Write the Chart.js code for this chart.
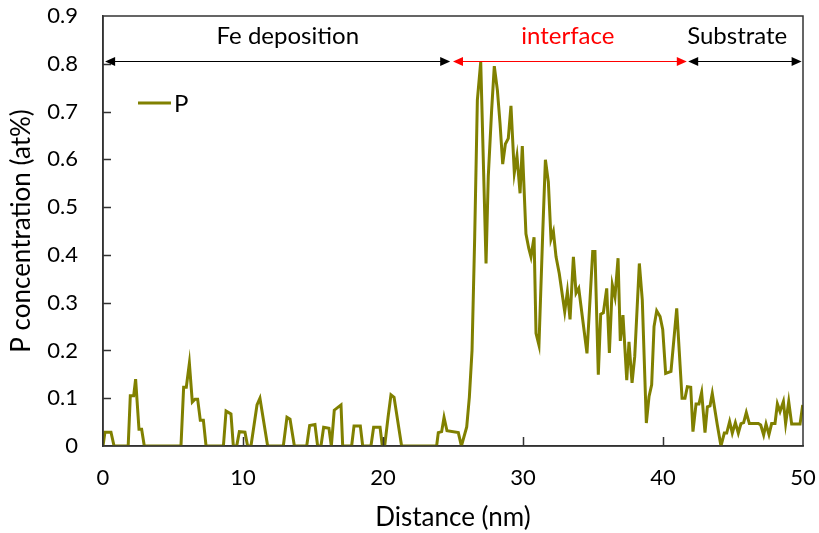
<!DOCTYPE html>
<html>
<head>
<meta charset="utf-8">
<script src="https://cdn.jsdelivr.net/npm/chart.js@4/dist/chart.umd.min.js"></script>
<style>
html,body{margin:0;padding:0;background:#fff;}
#wrap{width:819px;height:533px;position:relative;}
</style>
</head>
<body>
<div id="wrap"><canvas id="c" width="819" height="533"></canvas></div>
<script>
// ---- data ----
const distance = [0,0.14,0.57,0.79,1.8,1.95,2.19,2.33,2.57,2.76,2.95,5.57,5.76,5.95,6.17,6.38,6.57,6.76,6.95,7.17,7.36,8.6,8.79,9.14,9.31,9.55,9.74,10.14,10.33,10.57,11.0,11.21,11.76,12.88,13.14,13.36,13.67,14.55,14.76,15.14,15.33,15.57,15.76,16.14,16.31,16.52,17.0,17.12,17.76,17.93,18.38,18.55,19.14,19.33,19.79,19.95,20.12,20.36,20.57,20.79,21.33,23.83,23.95,24.19,24.36,24.57,25.38,25.6,25.98,26.17,26.36,26.55,26.74,26.98,27.36,27.52,27.76,27.95,28.17,28.36,28.55,28.74,28.95,29.14,29.38,29.57,29.79,29.95,30.21,30.41,30.57,30.79,30.93,31.14,31.41,31.6,31.81,32.0,32.17,32.36,32.59,32.98,33.17,33.36,33.6,33.79,33.98,34.57,34.98,35.14,35.38,35.55,35.74,35.98,36.17,36.38,36.57,36.79,36.95,37.14,37.41,37.57,37.79,37.98,38.31,38.52,38.81,39.0,39.19,39.36,39.55,39.79,39.98,40.19,40.57,40.98,41.36,41.57,41.74,41.98,42.14,42.36,42.57,42.76,43.0,43.17,43.36,43.52,43.88,44.14,44.38,44.55,44.76,44.95,45.17,45.38,45.57,45.76,45.95,46.17,46.81,46.98,47.19,47.36,47.57,47.76,48.0,48.17,48.36,48.6,48.76,48.98,49.19,49.79,49.98];
const pConc = [0,0.029,0.029,0,0,0.105,0.105,0.14,0.035,0.035,0,0,0.123,0.123,0.173,0.092,0.098,0.098,0.054,0.054,0,0,0.073,0.067,0,0,0.03,0.029,0,0,0.086,0.1,0,0,0.06,0.056,0,0,0.043,0.045,0,0,0.039,0.037,0,0.075,0.086,0,0,0.042,0.042,0,0,0.039,0.039,0,0,0.06,0.107,0.102,0,0,0.028,0.03,0.06,0.032,0.028,0,0.04,0.103,0.2,0.438,0.724,0.804,0.382,0.564,0.703,0.795,0.745,0.675,0.59,0.632,0.644,0.712,0.572,0.607,0.529,0.628,0.444,0.414,0.396,0.437,0.236,0.211,0.446,0.599,0.553,0.433,0.449,0.396,0.361,0.281,0.323,0.265,0.396,0.32,0.33,0.194,0.407,0.407,0.149,0.276,0.279,0.33,0.195,0.337,0.312,0.393,0.22,0.274,0.138,0.218,0.132,0.187,0.382,0.306,0.048,0.103,0.128,0.25,0.283,0.271,0.244,0.152,0.156,0.288,0.1,0.1,0.124,0.123,0.03,0.088,0.088,0.112,0.028,0.082,0.084,0.11,0.044,0,0.027,0.027,0.051,0.027,0.049,0.027,0.047,0.049,0.07,0.047,0.047,0.044,0.023,0.046,0.024,0.047,0.047,0.088,0.072,0.093,0.047,0.093,0.046,0.046,0.086];
const xTickLabels = ['0','10','20','30','40','50'];
const yTickLabels = ['0','0.1','0.2','0.3','0.4','0.5','0.6','0.7','0.8','0.9'];
const regionNames = ['Fe deposition','interface','Substrate'];
const regionFrom = [0.15, 25.0, 41.8];
const regionTo = [24.8, 41.7, 49.9];
const regionLabelX = [13.2, 33.2, 45.3];
const regionLevel = 0.805;
const seriesName = 'P';

const FONT = 'Lato, "DejaVu Sans", sans-serif';
const OLIVE = '#808000';

const overlay = {
  id: 'overlay',
  afterDraw(chart) {
    const {ctx, chartArea: a, scales: {x, y}} = chart;
    ctx.save();
    // frame
    ctx.strokeStyle = '#333';
    ctx.lineWidth = 1.5;
    ctx.strokeRect(a.left, a.top, a.right - a.left, a.bottom - a.top);
    // inward ticks
    ctx.beginPath();
    for (let i = 1; i < xTickLabels.length - 1; i++) {
      const px = Math.round(x.getPixelForValue(Number(xTickLabels[i]))) + 0.5;
      ctx.moveTo(px, a.bottom); ctx.lineTo(px, a.bottom - 9);
    }
    for (let i = 1; i < yTickLabels.length - 1; i++) {
      const py = Math.round(y.getPixelForValue(Number(yTickLabels[i]))) + 0.5;
      ctx.moveTo(a.left, py); ctx.lineTo(a.left + 8, py);
    }
    ctx.stroke();
    // region arrows
    const ay = Math.round(y.getPixelForValue(regionLevel)) + 0.5;
    const colors = ['#000', '#ff0000', '#000'];
    for (let i = 0; i < regionNames.length; i++) {
      const x1 = x.getPixelForValue(regionFrom[i]);
      const x2 = x.getPixelForValue(regionTo[i]);
      ctx.strokeStyle = colors[i];
      ctx.fillStyle = colors[i];
      ctx.lineWidth = 1;
      ctx.beginPath(); ctx.moveTo(x1 + 4, ay); ctx.lineTo(x2 - 4, ay); ctx.stroke();
      ctx.beginPath(); ctx.moveTo(x1, ay); ctx.lineTo(x1 + 10, ay - 4.5); ctx.lineTo(x1 + 10, ay + 4.5); ctx.closePath(); ctx.fill();
      ctx.beginPath(); ctx.moveTo(x2, ay); ctx.lineTo(x2 - 10, ay - 4.5); ctx.lineTo(x2 - 10, ay + 4.5); ctx.closePath(); ctx.fill();
      ctx.font = '24px ' + FONT;
      ctx.textAlign = 'center';
      ctx.textBaseline = 'middle';
      ctx.fillText(regionNames[i], x.getPixelForValue(regionLabelX[i]), 36);
    }
    // legend
    ctx.strokeStyle = OLIVE;
    ctx.lineWidth = 3;
    ctx.beginPath(); ctx.moveTo(138, 103); ctx.lineTo(171, 103); ctx.stroke();
    ctx.fillStyle = '#000';
    ctx.font = '24px ' + FONT;
    ctx.textAlign = 'left';
    ctx.textBaseline = 'middle';
    ctx.fillText(seriesName, 174, 104);
    ctx.restore();
  }
};

new Chart(document.getElementById('c'), {
  type: 'scatter',
  data: {
    datasets: [{
      label: seriesName,
      data: distance.map((d, i) => ({x: d, y: pConc[i]})),
      showLine: true,
      borderColor: OLIVE,
      backgroundColor: OLIVE,
      borderWidth: 3,
      pointRadius: 0,
      tension: 0
    }]
  },
  options: {
    responsive: false,
    animation: false,
    layout: {padding: {top: 16, right: 16, left: 0, bottom: 0}},
    plugins: {legend: {display: false}, tooltip: {enabled: false}},
    scales: {
      x: {
        type: 'linear', min: 0, max: 50,
        afterFit(s) { s.height = 87; s.paddingLeft = 0; s.paddingRight = 0; },
        afterBuildTicks(s) { s.ticks = xTickLabels.map(v => ({value: Number(v)})); },
        ticks: {font: {family: FONT, size: 22}, color: '#000', padding: 19, maxRotation: 0,
          callback: (v) => { const i = xTickLabels.indexOf(String(v)); return i >= 0 ? xTickLabels[i] : ''; }},
        grid: {display: false, drawTicks: false},
        border: {display: true, color: '#333', width: 1.5},
        title: {display: true, text: 'Distance (nm)', font: {family: FONT, size: 26}, color: '#000', padding: {top: 0, bottom: 0}}
      },
      y: {
        min: 0, max: 0.9,
        afterFit(s) { s.width = 103; s.paddingTop = 0; s.paddingBottom = 0; },
        afterBuildTicks(s) { s.ticks = yTickLabels.map(v => ({value: Number(v)})); },
        ticks: {font: {family: FONT, size: 22}, color: '#000', padding: 25,
          callback: (v) => { const i = yTickLabels.findIndex(t => Math.abs(Number(t) - v) < 1e-9); return i >= 0 ? yTickLabels[i] : ''; }},
        grid: {display: false, drawTicks: false},
        border: {display: true, color: '#333', width: 1.5},
        title: {display: true, text: 'P concentration (at%)', font: {family: FONT, size: 26}, color: '#000', padding: {top: 6, bottom: 0}}
      }
    }
  },
  plugins: [overlay]
});
</script>
</body>
</html>
